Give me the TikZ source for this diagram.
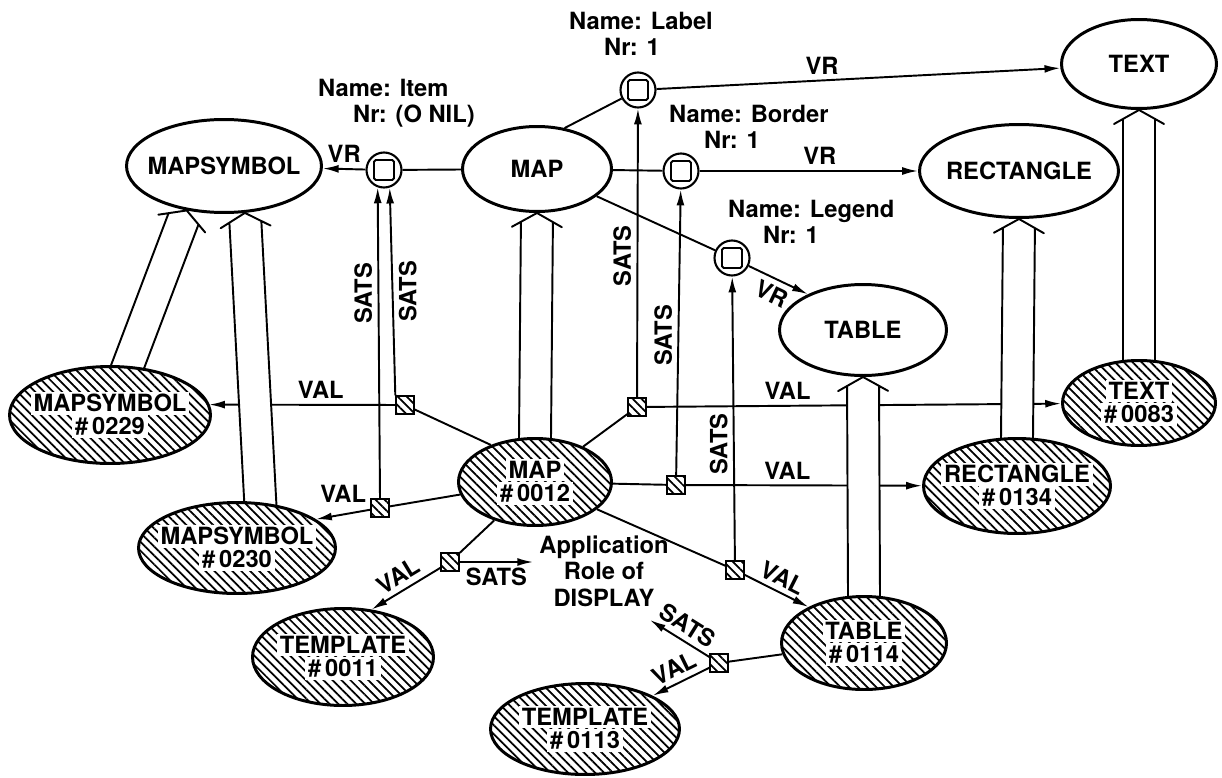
\documentclass[tikz,border=0pt]{standalone}
\usepackage{fontspec}
\setmainfont{TeX Gyre Heros}
\usetikzlibrary{arrows.meta,shapes.geometric,patterns.meta,calc}

\pgfdeclarelayer{lines}
\pgfdeclarelayer{bands}
\pgfsetlayers{lines,bands,main}

% white patch behind text on hatched ovals
\newcommand\whitebg[1]{{\setlength{\fboxsep}{1.5pt}\colorbox{white}{#1}}}

\begin{document}
\begin{tikzpicture}[x=0.02cm, y=-0.02cm, >={Latex[length=9pt,width=4.5pt]},
  every node/.style={font=\fontsize{13.5}{15}\selectfont\bfseries},
  typ/.style={ellipse, draw, line width=1.7pt, fill=white, align=center,
    inner xsep=-3cm, inner ysep=-1.5cm},
  inst/.style={ellipse, draw, line width=1.7pt, align=center,
    inner xsep=-3cm, inner ysep=-1.5cm, preaction={fill=white},
    pattern={Lines[angle=-45,distance=3.6pt,line width=1pt]},
    font=\fontsize{13.5}{13}\selectfont\bfseries},
  role/.style={circle, draw, line width=1.2pt, fill=white, minimum size=0.7cm,
    inner sep=0pt, path picture={\draw[line width=1.1pt, rounded corners=1pt]
      ([shift={(-0.2cm,-0.2cm)}]path picture bounding box.center) rectangle
      ([shift={(0.2cm,0.2cm)}]path picture bounding box.center);}},
  slot/.style={draw, line width=0.8pt, minimum size=0.36cm, inner sep=0pt,
    preaction={fill=white},
    pattern={Lines[angle=-45,distance=3.6pt,line width=1pt]}},
  wire/.style={line width=1.1pt},
  lab/.style={inner sep=3pt},
  isa/.style={wire, fill=white, line join=round, to path={
    ($(\tikztotarget)!1.12!(\tikztostart)!0.32cm!90:(\tikztotarget)$) --
    ($(\tikztotarget)!0.18cm!(\tikztostart)!0.32cm!-90:(\tikztostart)$) --
    ($(\tikztotarget)!0.28cm!(\tikztostart)!0.5cm!-90:(\tikztostart)$) --
    (\tikztotarget) --
    ($(\tikztotarget)!0.28cm!(\tikztostart)!0.5cm!90:(\tikztostart)$) --
    ($(\tikztotarget)!0.18cm!(\tikztostart)!0.32cm!90:(\tikztostart)$) --
    ($(\tikztotarget)!1.12!(\tikztostart)!0.32cm!-90:(\tikztotarget)$) -- cycle}}]

\useasboundingbox (0,0) rectangle (1222,777);

% type ovals
\node[typ, minimum width=3.9cm, minimum height=1.86cm] (tMapsym) at (224,166) {MAPSYMBOL};
\node[typ, minimum width=2.98cm, minimum height=1.7cm] (tMap) at (537,169) {MAP};
\node[typ, minimum width=3.1cm, minimum height=1.78cm] (tText) at (1139,64) {TEXT};
\node[typ, minimum width=3.98cm, minimum height=1.86cm] (tRect) at (1019,171) {RECTANGLE};
\node[typ, minimum width=3.34cm, minimum height=1.82cm] (tTable) at (863,330) {TABLE};

% instance ovals (hatched)
\node[inst, minimum width=4.02cm, minimum height=1.94cm] (iMapsymA) at (110,415)
  {\whitebg{MAPSYMBOL}\\\whitebg{\#\,0229}};
\node[inst, minimum width=3.94cm, minimum height=1.82cm] (iMapsymB) at (237,548)
  {\whitebg{MAPSYMBOL}\\\whitebg{\#\,0230}};
\node[inst, minimum width=3.06cm, minimum height=1.74cm] (iMap) at (535,482)
  {\whitebg{MAP}\\\whitebg{\#\,0012}};
\node[inst, minimum width=3.06cm, minimum height=1.7cm] (iText) at (1139,403)
  {\whitebg{TEXT}\\\whitebg{\#\,0083}};
\node[inst, minimum width=3.74cm, minimum height=1.9cm] (iRect) at (1017,486)
  {\whitebg{RECTANGLE}\\\whitebg{\#\,0134}};
\node[inst, minimum width=3.62cm, minimum height=1.94cm] (iTempA) at (343,657)
  {\whitebg{TEMPLATE}\\\whitebg{\#\,0011}};
\node[inst, minimum width=3.78cm, minimum height=1.82cm] (iTempB) at (585,729)
  {\whitebg{TEMPLATE}\\\whitebg{\#\,0113}};
\node[inst, minimum width=3.3cm, minimum height=1.86cm] (iTable) at (864,643)
  {\whitebg{TABLE}\\\whitebg{\#\,0114}};

% role circles and their names
\node[role] (cItem) at (384,170) {};
\node[role] (cLabel) at (638,90) {};
\node[role] (cBorder) at (681,171) {};
\node[role] (cLegend) at (732,258) {};
\node[anchor=west, align=left] (nItem) at (312,103) {Name: Item\\\hspace*{0.7cm}Nr: (O NIL)};
\node[anchor=west, align=left] (nLabel) at (563,34) {Name: Label\\\hspace*{0.7cm}Nr: 1};
\node[anchor=west, align=left] (nBorder) at (663,127) {Name: Border\\\hspace*{0.7cm}Nr: 1};
\node[anchor=west, align=left] (nLegend) at (722,222) {Name: Legend\\\hspace*{0.7cm}Nr: 1};

% value slots
\node[slot] (sA) at (405,405) {};
\node[slot] (sB) at (380,508) {};
\node[slot] (sC) at (637,407) {};
\node[slot] (sD) at (676,485) {};
\node[slot] (sE) at (450,562) {};
\node[slot] (sF) at (735,570) {};
\node[slot] (sG) at (719,663) {};

\node[align=center] (appl) at (604,571) {Application\\Role of\\DISPLAY};
\coordinate (satsEnd) at (650,620);

\begin{pgfonlayer}{lines}
% roles of MAP
\draw[wire] (tMap) -- (cItem);
\draw[wire,->] (cItem) -- node[lab,above] (vrItem) {VR} (tMapsym);
\draw[wire] (tMap.56) -- (cLabel);
\draw[wire,->] (cLabel) -- node[lab,pos=0.41,above] (vrLabel) {VR} (tText);
\draw[wire] (tMap) -- (cBorder);
\draw[wire,->] (cBorder) -- node[lab,pos=0.55,above] (vrBorder) {VR} (tRect);
\draw[wire] (tMap) -- (cLegend);
\draw[wire,->] (cLegend) -- node[lab,midway,below,sloped] (vrLegend) {VR} (tTable.147);

% values of MAP #0012
\draw[wire] (iMap.140) -- (sA);
\draw[wire,->] (sA) -- node[lab,pos=0.4,above] {VAL} (iMapsymA.6);
\draw[wire] (iMap) -- (sB);
\draw[wire,->] (sB) -- node[lab,midway,above=3pt] {VAL} (iMapsymB.20);
\draw[wire] (iMap) -- (sC);
\draw[wire,->] (sC) -- node[lab,pos=0.34,above] {VAL} (iText);
\draw[wire] (iMap) -- (sD);
\draw[wire,->] (sD) -- node[lab,pos=0.43,above] {VAL} (iRect);
\draw[wire] (iMap) -- (sE);
\draw[wire,->] (sE) -- node[lab,midway,above,sloped] {VAL} (iTempA.59);
\draw[wire,->] (sE) -- node[lab,midway,below] {SATS} (sE -| appl.west);
\draw[wire] (iMap) -- (sF);
\draw[wire,->] (sF) -- node[lab,midway,above,sloped] {VAL} (iTable.147);
\draw[wire] (iTable) -- (sG);
\draw[wire,->] (sG) -- node[lab,midway,above,sloped] {VAL} (iTempB);
\draw[wire,->] (sG) -- node[lab,midway,above,sloped] {SATS} (satsEnd);

% slots satisfy roles
\draw[wire,->] (sA.north west) -- node[lab,pos=0.5,below,rotate=90] {SATS} (cItem.-72);
\draw[wire,->] (sB.north) -- node[lab,pos=0.66,above,rotate=90] {SATS} (cItem.-110);
\draw[wire,->] (sC) -- node[lab,pos=0.49,above,rotate=90] {SATS} (cLabel);
\draw[wire,->] (sD) -- node[lab,pos=0.49,above,rotate=90] {SATS} (cBorder);
\draw[wire,->] (sF) -- node[lab,pos=0.41,above,rotate=90] {SATS} (cLegend);
\end{pgfonlayer}

% instance-of arrows
\begin{pgfonlayer}{bands}
\foreach \a/\b in {iMapsymA.70/tMapsym.230, iMapsymB.63/tMapsym.294,
                   iMap.north/tMap.south, iTable.north/tTable.south,
                   iRect.north/tRect.south, iText.north/tText.south}
  \draw[isa] (\a) to (\b);
\end{pgfonlayer}

\end{tikzpicture}
\end{document}
